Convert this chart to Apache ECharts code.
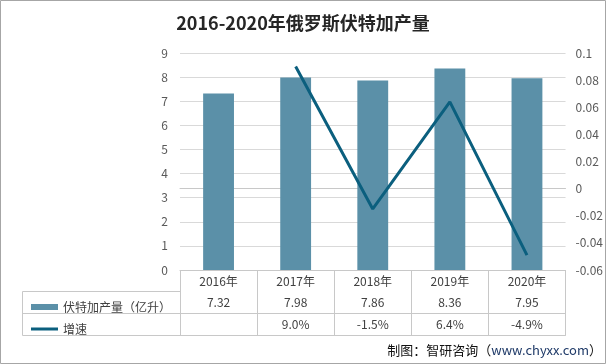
<!DOCTYPE html>
<html><head><meta charset="utf-8">
<script src="https://cdn.jsdelivr.net/npm/echarts@6/dist/echarts.min.js"></script>
<style>html,body{margin:0;padding:0;background:#fff}#c{width:606px;height:364px}</style>
</head><body><div id="c"></div>
<script>
var years = ['2016年','2017年','2018年','2019年','2020年'];
var production = [7.32, 7.98, 7.86, 8.36, 7.95];
var growth = [null, 0.09, -0.015, 0.064, -0.049];
var leftTicks = {min: 0, max: 9, interval: 1};
var rightTicks = {min: -0.06, max: 0.1, interval: 0.02};

var font = '"Noto Sans CJK SC", "Noto Sans", sans-serif';
var tableColor = '#c8c8c8';
var textColor = '#404040';
var barColor = '#5B90A8';
var lineColor = '#0B5F7E';

var prodLabels = production.map(function(v){ return v.toFixed(2); });
var growthLabels = growth.map(function(v){ return v == null ? '' : (v*100).toFixed(1) + '%'; });

var chart = echarts.init(document.getElementById('c'));
var gridL = 180, gridR = 39, gridT = 53, gridB = 94;
chart.setOption({
  backgroundColor: '#fff',
  textStyle: {fontFamily: font},
  title: [{
    text: '2016-2020年俄罗斯伏特加产量', left: 'center', top: 14, padding: 0,
    textStyle: {fontSize: 18, fontWeight: 'bold', color: '#262626', fontFamily: font}
  }, {
    text: '制图：智研咨询（{u|www.chyxx.com}）', right: 4, top: 344, padding: 0,
    textStyle: {fontSize: 13, fontWeight: 'normal', color: '#111', fontFamily: font,
      rich: {u: {fontSize: 13, color: '#1F3A68', fontFamily: font}}}
  }],
  legend: {
    orient: 'vertical', left: 26, top: 296, itemWidth: 27, itemHeight: 6, itemGap: 10,
    textStyle: {fontSize: 12, color: textColor, lineHeight: 12, fontFamily: font},
    data: [
      {name: '伏特加产量（亿升）', icon: 'rect'},
      {name: '增速', icon: 'path://M0,0 L27,0 L27,3 L0,3 Z'}
    ]
  },
  grid: {left: gridL, right: gridR, top: gridT, bottom: gridB},
  xAxis: [{
    type: 'category', data: years, position: 'bottom',
    axisLine: {show: true, lineStyle: {color: tableColor}},
    axisTick: {show: true, interval: 0, length: 65, lineStyle: {color: tableColor}},
    axisLabel: {margin: 5, fontSize: 12, color: textColor, interval: 0}
  }, {
    type: 'category', data: prodLabels, position: 'bottom', offset: 21,
    axisLine: {show: true, lineStyle: {color: tableColor}},
    axisTick: {show: false},
    axisLabel: {margin: 5, fontSize: 12, color: textColor, interval: 0}
  }, {
    type: 'category', data: growthLabels, position: 'bottom', offset: 43,
    axisLine: {show: true, lineStyle: {color: tableColor}},
    axisTick: {show: false},
    axisLabel: {margin: 5, fontSize: 12, color: textColor, interval: 0}
  }, {
    type: 'category', data: ['', '', '', '', ''], position: 'bottom', offset: 65,
    axisLine: {show: true, lineStyle: {color: tableColor}},
    axisTick: {show: false}, axisLabel: {show: false}
  }],
  yAxis: [{
    type: 'value', min: leftTicks.min, max: leftTicks.max, interval: leftTicks.interval,
    axisLine: {show: false}, axisTick: {show: false},
    axisLabel: {margin: 12, fontSize: 12, color: '#595959'},
    splitLine: {lineStyle: {color: '#d9d9d9'}}
  }, {
    type: 'value', min: rightTicks.min, max: rightTicks.max, interval: rightTicks.interval,
    axisLine: {show: false}, axisTick: {show: false},
    axisLabel: {margin: 10, fontSize: 12, color: '#595959', formatter: function(v){ return String(+v.toFixed(2)); }},
    splitLine: {show: false}
  }],
  series: [{
    name: '伏特加产量（亿升）', type: 'bar', data: production, barWidth: '40%',
    itemStyle: {color: barColor}, xAxisIndex: 0, yAxisIndex: 0
  }, {
    name: '增速', type: 'line', data: growth, xAxisIndex: 0, yAxisIndex: 1,
    symbol: 'none', lineStyle: {color: lineColor, width: 3}, itemStyle: {color: lineColor},
    connectNulls: false
  }],
  graphic: [
    {type: 'line', shape: {x1: 22.5, y1: 291.5, x2: 180, y2: 291.5}, style: {stroke: tableColor, lineWidth: 1}, silent: true},
    {type: 'line', shape: {x1: 22.5, y1: 313.5, x2: 180, y2: 313.5}, style: {stroke: tableColor, lineWidth: 1}, silent: true},
    {type: 'line', shape: {x1: 22.5, y1: 335.5, x2: 180, y2: 335.5}, style: {stroke: tableColor, lineWidth: 1}, silent: true},
    {type: 'line', shape: {x1: 22.5, y1: 291.5, x2: 22.5, y2: 335.5}, style: {stroke: tableColor, lineWidth: 1}, silent: true},
    {type: 'rect', shape: {x: 0.5, y: 0.5, width: 605, height: 363}, style: {fill: null, stroke: '#a6a6a6', lineWidth: 1}, silent: true, z: 100}
  ]
});
</script></body></html>
